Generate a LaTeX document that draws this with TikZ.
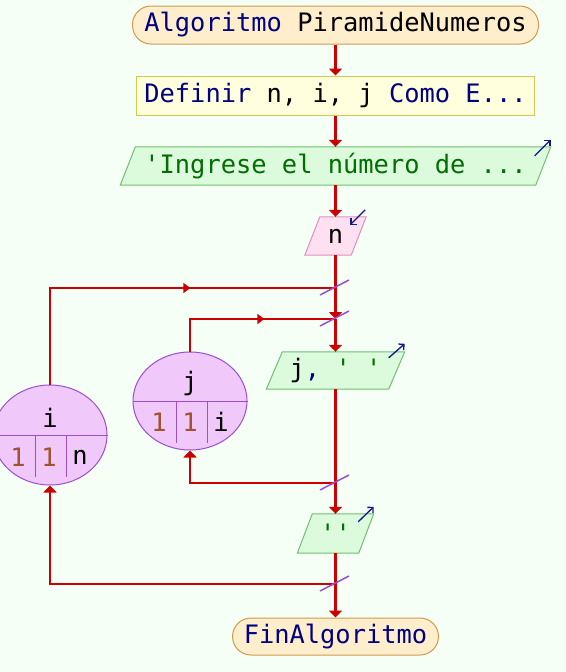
\documentclass[tikz,border=0pt]{standalone}
\usepackage{fontspec}
\newfontfamily\flowfont{DejaVu Sans Mono}
\usetikzlibrary{shapes.geometric,arrows.meta,decorations.markings,backgrounds}

\definecolor{pagebg}{RGB}{245,255,245}
\definecolor{flowred}{RGB}{204,0,0}
\definecolor{kw}{RGB}{0,0,128}
\definecolor{str}{RGB}{0,110,0}
\definecolor{num}{RGB}{160,82,45}
\definecolor{termfill}{RGB}{255,238,204}
\definecolor{termline}{RGB}{208,154,80}
\definecolor{deffill}{RGB}{255,255,221}
\definecolor{defline}{RGB}{204,204,85}
\definecolor{outfill}{RGB}{220,250,220}
\definecolor{outline}{RGB}{112,192,112}
\definecolor{infill}{RGB}{255,224,240}
\definecolor{inline}{RGB}{224,144,192}
\definecolor{loopfill}{RGB}{240,200,250}
\definecolor{loopline}{RGB}{154,79,208}
\definecolor{iconblue}{RGB}{20,20,140}

\begin{document}
\begin{tikzpicture}[x=1pt,y=-1pt,
  font=\flowfont\fontsize{25.4}{30}\selectfont,
  term/.style={rectangle, rounded corners=18.5pt, draw=termline, fill=termfill, line width=1pt, minimum height=38pt, inner sep=0pt},
  defbox/.style={rectangle, draw=defline, fill=deffill, line width=1pt, minimum height=39pt, inner sep=0pt},
  iobody/.style={rectangle, inner sep=0pt, minimum height=38pt},
  outshape/.style={draw=outline, fill=outfill, line width=1pt},
  inshape/.style={draw=inline, fill=infill, line width=1pt},
  loopell/.style={ellipse, draw=loopline, fill=loopfill, line width=1pt, minimum width=114pt, minimum height=100pt, inner sep=0pt},
  divider/.style={draw=loopline, line width=1pt},
  flow/.style={draw=flowred, line width=2.2pt, -{Triangle[length=7pt,width=13pt]}},
  plain/.style={draw=flowred, line width=2.2pt},
  midarrow/.style={postaction={decorate}, decoration={markings,
      mark=at position #1 with {\arrow[flowred]{Triangle[length=7pt,width=10pt]}}}},
  tick/.style={draw=loopline, line width=1.5pt},
  icon/.style={draw=iconblue, line width=1.3pt, -{Straight Barb[length=4pt,width=8pt]}},
  cell/.style={inner sep=0pt}
]
\begin{scope}[on background layer]
  \fill[pagebg] (0,0) rectangle (565,672);
\end{scope}
\useasboundingbox (0,0) rectangle (565,672);

% main column
\node[term, minimum width=406pt] (start) at (335.5,25) {\textcolor{kw}{Algoritmo} PiramideNumeros};
\node[defbox, minimum width=398pt] (def) at (335.5,95.5) {\textcolor{kw}{Definir} n, i, j \textcolor{kw}{Como E...}};
\node[iobody, minimum width=415pt] (out1) at (335.5,166) {\textcolor{str}{'Ingrese el número de ...}};
\node[iobody, minimum width=46pt] (readn) at (335.5,236) {n};
\node[iobody, minimum width=122pt, minimum height=37pt] (out2) at (335.5,370.5) {j\textcolor{kw}{,} \textcolor{str}{' '}};
\node[iobody, minimum width=61pt, minimum height=39pt] (out3) at (335.5,533.5) {\textcolor{str}{''}};
\node[term, minimum width=206pt, minimum height=37pt] (finish) at (335.5,636.5) {\textcolor{kw}{FinAlgoritmo}};

% parallelogram outlines behind the texts
\begin{scope}[on background layer]
  \path[outshape] ([xshift=7.5pt]out1.north west) -- ([xshift=7.5pt]out1.north east)
     -- ([xshift=-7.5pt]out1.south east) -- ([xshift=-7.5pt]out1.south west) -- cycle;
  \path[inshape] ([xshift=7.5pt]readn.north west) -- ([xshift=7.5pt]readn.north east)
     -- ([xshift=-7.5pt]readn.south east) -- ([xshift=-7.5pt]readn.south west) -- cycle;
  \path[outshape] ([xshift=8pt]out2.north west) -- ([xshift=8pt]out2.north east)
     -- ([xshift=-8pt]out2.south east) -- ([xshift=-8pt]out2.south west) -- cycle;
  \path[outshape] ([xshift=7.5pt]out3.north west) -- ([xshift=7.5pt]out3.north east)
     -- ([xshift=-7.5pt]out3.south east) -- ([xshift=-7.5pt]out3.south west) -- cycle;
\end{scope}

% read / write markers
\draw[icon] ([xshift=-8.5pt,yshift=-9pt]out1.north east) -- ([xshift=7.5pt,yshift=7pt]out1.north east);
\draw[icon] ([xshift=6.5pt,yshift=7pt]readn.north east) -- ([xshift=-8.5pt,yshift=-8pt]readn.north east);
\draw[icon] ([xshift=-8pt,yshift=-6pt]out2.north east) -- ([xshift=8pt,yshift=8pt]out2.north east);
\draw[icon] ([xshift=-8pt,yshift=-8pt]out3.north east) -- ([xshift=7.5pt,yshift=7pt]out3.north east);

% loop headers
\node[loopell] (iloop) at (50,435) {};
\draw[divider] (iloop.west) -- (iloop.east);
\draw[divider] ([xshift=-15pt]iloop.center) -- ++(0,42);
\draw[divider] ([xshift=16pt]iloop.center) -- ++(0,42);
\node[cell] (ivar) at ([yshift=17pt]iloop.center) {i};
\node[cell, text=num] (istart) at ([xshift=-32pt,yshift=-22pt]iloop.center) {1};
\node[cell, text=num] (istep) at ([xshift=-1pt,yshift=-22pt]iloop.center) {1};
\node[cell] (iend) at ([xshift=30pt,yshift=-22pt]iloop.center) {n};

\node[loopell, minimum height=98pt] (jloop) at (190,401) {};
\draw[divider] (jloop.west) -- (jloop.east);
\draw[divider] ([xshift=-14pt]jloop.center) -- ++(0,42);
\draw[divider] ([xshift=17pt]jloop.center) -- ++(0,42);
\node[cell] (jvar) at ([yshift=18pt]jloop.center) {j};
\node[cell, text=num] (jstart) at ([xshift=-31pt,yshift=-21pt]jloop.center) {1};
\node[cell, text=num] (jstep) at ([xshift=0pt,yshift=-21pt]jloop.center) {1};
\node[cell] (jend) at ([xshift=31pt,yshift=-21pt]jloop.center) {i};

% junctions on the main line
\coordinate (J1) at (335.5,288);
\coordinate (J2) at (335.5,319);
\coordinate (J3) at (335.5,483);
\coordinate (J4) at (335.5,584);

% main flow
\draw[flow] (start.south) -- (def.north);
\draw[flow] (def.south) -- (out1.north);
\draw[flow] (out1.south) -- (readn.north);
\draw[plain] (readn.south) -- (J1);
\draw[flow] (J1) -- (J2);
\draw[flow] (J2) -- (out2.north);
\draw[plain] (out2.south) -- (J3);
\draw[flow] (J3) -- (out3.north);
\draw[plain] (out3.south) -- (J4);
\draw[flow] (J4) -- (finish.north);

% loop edges
\draw[plain, midarrow=0.62] (iloop.north) |- (J1);
\draw[plain, midarrow=0.6] (jloop.north) |- (J2);
\draw[flow] (J3) -| (jloop.south);
\draw[flow] (J4) -| (iloop.south);

% loop closing marks
\foreach \j in {J1,J2,J3,J4}
  \draw[tick] ([xshift=-15.5pt,yshift=-7pt]\j) -- ([xshift=13.5pt,yshift=8pt]\j);
\end{tikzpicture}
\end{document}
